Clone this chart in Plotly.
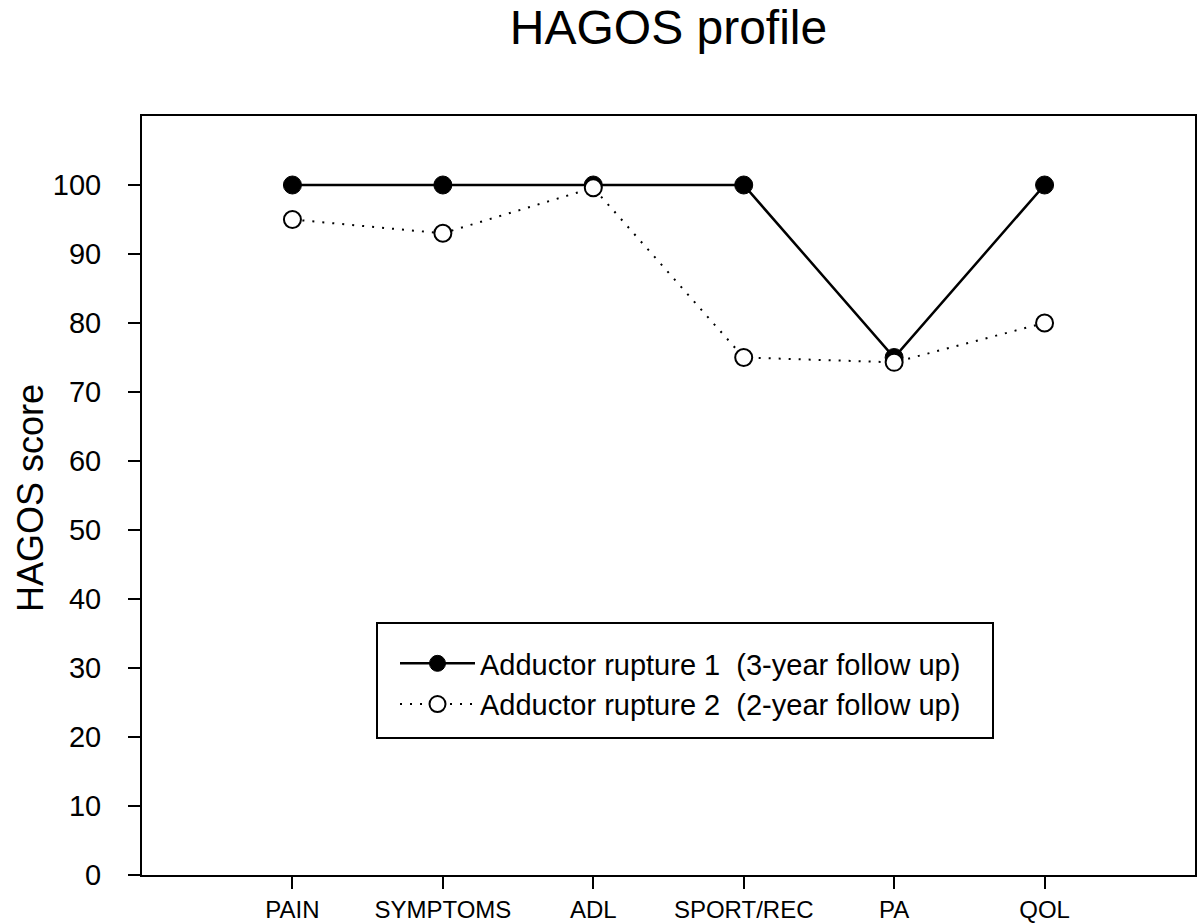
import plotly.graph_objects as go

categories = ["PAIN", "SYMPTOMS", "ADL", "SPORT/REC", "PA", "QOL"]
rupture1 = [100, 100, 100, 100, 75, 100]
rupture2 = [95, 93, 99.6, 75, 74.3, 80]
name1 = "Adductor rupture 1  (3-year follow up)"
name2 = "Adductor rupture 2  (2-year follow up)"
y_ticks = list(range(0, 101, 10))

FONT = "Arial, Liberation Sans, sans-serif"

fig = go.Figure()
fig.add_trace(go.Scatter(
    x=categories, y=rupture1, name=name1, mode="lines+markers",
    line=dict(color="black", width=2.5),
    marker=dict(symbol="circle", size=18, color="black", line=dict(color="black", width=1)),
))
fig.add_trace(go.Scatter(
    x=categories, y=rupture2, name=name2, mode="lines+markers",
    line=dict(color="black", width=2, dash="2px,8px"),
    marker=dict(symbol="circle", size=17, color="white", line=dict(color="black", width=2)),
))

L, R, T, B = 142, 5, 116, 48
W, H = 1200, 923
pw, ph = W - L - R, H - T - B

def px_x(x):
    return (x - L) / pw

def px_y(y):
    return (H - B - y) / ph

fig.update_layout(
    width=W, height=H,
    margin=dict(l=L, r=R, t=T, b=B, autoexpand=False),
    paper_bgcolor="white", plot_bgcolor="white",
    font=dict(family=FONT, color="black"),
    title=dict(text="HAGOS profile", x=0.5, xref="paper", xanchor="center",
               y=1 - 27 / H, yanchor="middle", font=dict(size=48, family=FONT, color="black")),
    xaxis=dict(type="category", range=[-1, 6], showline=True, linecolor="black", linewidth=2,
               mirror=True, ticks="outside", ticklen=12, tickwidth=2, tickcolor="black",
               showgrid=False, zeroline=False, automargin=False,
               tickfont=dict(size=24, family=FONT, color="black")),
    yaxis=dict(range=[0, 110], tickvals=y_ticks, showline=True, linecolor="black", linewidth=2,
               mirror=True, ticks="outside", ticklen=12, tickwidth=2, tickcolor="black",
               showgrid=False, zeroline=False, ticklabelstandoff=21, automargin=False,
               tickfont=dict(size=29, family=FONT, color="black")),
    showlegend=True,
    legend=dict(x=px_x(395), y=px_y(638), xanchor="left", yanchor="top",
                bgcolor="rgba(0,0,0,0)", borderwidth=0,
                font=dict(size=29, family=FONT, color="black"), itemwidth=75,
                tracegroupgap=0),
    shapes=[dict(type="rect", xref="paper", yref="paper",
                 x0=px_x(377), x1=px_x(993), y0=px_y(738), y1=px_y(623),
                 line=dict(color="black", width=2), fillcolor="rgba(0,0,0,0)", layer="above")],
    annotations=[dict(text="HAGOS score", xref="paper", yref="paper", x=px_x(30), y=px_y(498),
                      xanchor="center", yanchor="middle", textangle=-90, showarrow=False,
                      font=dict(size=36, family=FONT, color="black"))],
)

fig.write_html("out.html", config={"displayModeBar": False},
               post_script="document.body.style.margin='0px';document.body.style.overflow='hidden';")
